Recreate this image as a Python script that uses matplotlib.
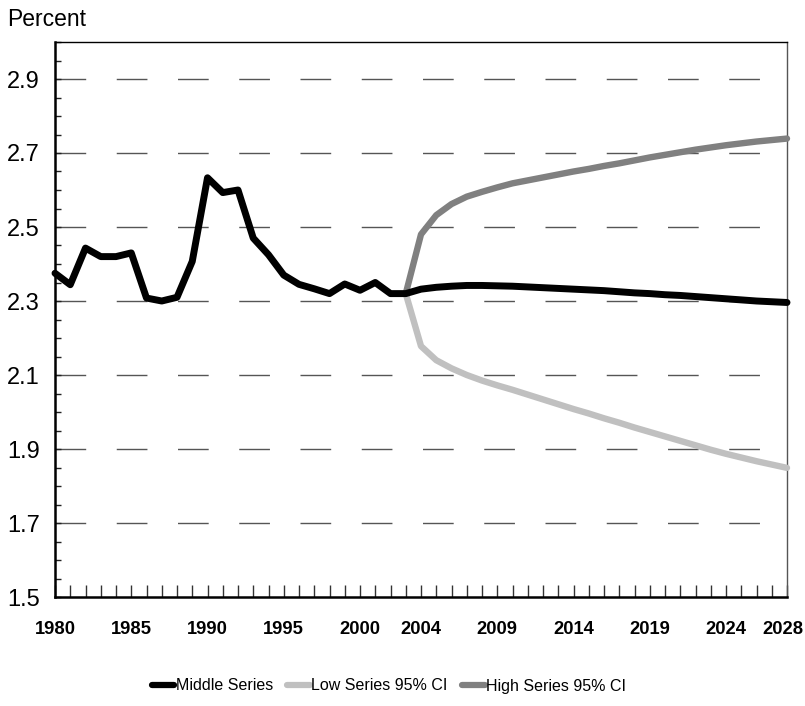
import matplotlib
matplotlib.use("Agg")
import matplotlib.pyplot as plt
import matplotlib.transforms as mtransforms
from matplotlib import font_manager

years = list(range(1980, 2029))

middle = [2.375, 2.344, 2.443, 2.420, 2.420, 2.430, 2.308, 2.300, 2.310, 2.407,
          2.633, 2.593, 2.600, 2.470, 2.425, 2.370, 2.345, 2.333, 2.320, 2.346,
          2.329, 2.350, 2.320, 2.320,
          2.332, 2.337, 2.340, 2.342, 2.342, 2.341, 2.340, 2.338, 2.336, 2.334,
          2.332, 2.330, 2.328, 2.325, 2.322, 2.320, 2.317, 2.315, 2.312, 2.309,
          2.306, 2.303, 2.300, 2.298, 2.296]

proj_years = list(range(2003, 2029))
low = [2.320, 2.178, 2.140, 2.118, 2.100, 2.085, 2.072, 2.060, 2.047, 2.034,
       2.021, 2.008, 1.996, 1.983, 1.971, 1.958, 1.946, 1.934, 1.922, 1.910,
       1.898, 1.887, 1.877, 1.867, 1.858, 1.849]
high = [2.320, 2.480, 2.532, 2.562, 2.582, 2.595, 2.607, 2.618, 2.626, 2.634,
        2.642, 2.650, 2.657, 2.665, 2.672, 2.680, 2.688, 2.695, 2.702, 2.709,
        2.715, 2.721, 2.726, 2.731, 2.735, 2.739]

label_years = [1980, 1985, 1990, 1995, 2000, 2004, 2009, 2014, 2019, 2024, 2028]
y_labels = [1.5, 1.7, 1.9, 2.1, 2.3, 2.5, 2.7, 2.9]

names = [f.name for f in font_manager.fontManager.ttflist]
base_font = "Liberation Sans" if "Liberation Sans" in names else "DejaVu Sans"
narrow_font = "Liberation Sans Narrow" if "Liberation Sans Narrow" in names else base_font
plt.rcParams['font.family'] = [base_font, 'DejaVu Sans']

W, H = 805, 706
fig = plt.figure(figsize=(W / 100, H / 100), dpi=100)
ax = fig.add_axes([55 / W, 1 - 597 / H, (787 - 55) / W, (597 - 42) / H])

x0 = years[0]
# gridlines
for v in y_labels[1:]:
    ax.axhline(v, color='#555555', lw=1.0, dashes=(22.1, 22.0), zorder=1)

ax.plot([y - x0 for y in proj_years], low, color='#c0c0c0', lw=4.6,
        solid_capstyle='round', solid_joinstyle='round', clip_on=False, zorder=3,
        label='Low Series 95% CI')
ax.plot([y - x0 for y in proj_years], high, color='#808080', lw=4.6,
        solid_capstyle='round', solid_joinstyle='round', clip_on=False, zorder=3,
        label='High Series 95% CI')
ax.plot([y - x0 for y in years], middle, color='black', lw=5.0,
        solid_capstyle='round', solid_joinstyle='round', clip_on=False, zorder=4,
        label='Middle Series')

ax.set_xlim(0, years[-1] - x0)
ax.set_ylim(1.5, 3.0)

ax.set_xticks([y - x0 for y in label_years])
ax.set_xticklabels([str(y) for y in label_years], fontweight='bold',
                   family=[narrow_font, 'DejaVu Sans'], fontsize=13.2)
ax.set_xticks([y - x0 for y in years], minor=True)
ax.tick_params(axis='x', which='both', direction='in', length=8.6, width=1.0,
               color='#333333', pad=17)
last = ax.get_xticklabels()[-1]
last.set_transform(last.get_transform() +
                   mtransforms.ScaledTranslation(-4 / 100, 0, fig.dpi_scale_trans))

ax.set_yticks(y_labels)
ax.set_yticklabels([f"{v:.1f}" for v in y_labels], fontsize=17)
ax.set_yticks([1.5 + 0.05 * i for i in range(31)], minor=True)
ax.tick_params(axis='y', which='both', direction='in', length=4.5, width=1.0,
               color='#222222', pad=11)

ax.spines['left'].set_linewidth(1.8)
ax.spines['bottom'].set_linewidth(1.8)
ax.spines['top'].set_linewidth(1.0)
ax.spines['right'].set_linewidth(1.0)
ax.spines['right'].set_color('#555555')

fig.text(7 / W, 1 - 26 / H, "Percent", fontsize=16.5, va='baseline', ha='left')

handles, labels = ax.get_legend_handles_labels()
order = [2, 0, 1]
leg = fig.legend([handles[i] for i in order], [labels[i] for i in order],
                 loc='center', bbox_to_anchor=(389 / W, 1 - 686 / H), ncol=3,
                 frameon=False, fontsize=11.5, handlelength=1.4,
                 handletextpad=0.1, columnspacing=0.9)
for lh in leg.get_lines():
    lh.set_linewidth(4.5)

fig.savefig("out.png", dpi=100)
